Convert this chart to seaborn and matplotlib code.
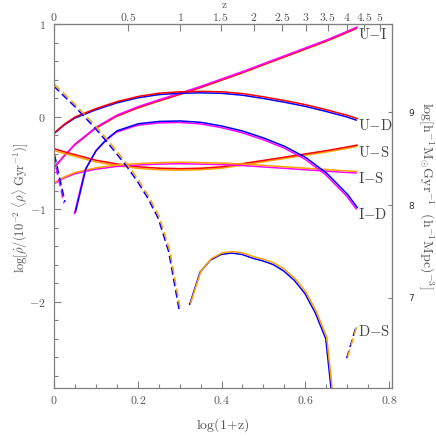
import numpy as np
import matplotlib
matplotlib.use("Agg")
import matplotlib.pyplot as plt
import matplotlib.transforms as mtransforms
import seaborn as sns

# ---------------- data ----------------
grid_x = [0, 0.025, 0.05, 0.1, 0.15, 0.2, 0.25, 0.3, 0.35, 0.4, 0.45,
          0.5, 0.55, 0.6, 0.65, 0.7, 0.723]
ui_y = [-0.55, -0.42, -0.30, -0.12, 0.01, 0.10, 0.175, 0.245, 0.32, 0.40,
        0.48, 0.565, 0.65, 0.735, 0.82, 0.915, 0.96]
ud_y = [-0.18, -0.085, -0.01, 0.08, 0.155, 0.21, 0.245, 0.26, 0.265, 0.26,
        0.24, 0.205, 0.165, 0.12, 0.065, 0.005, -0.03]
us_y = [-0.355, -0.39, -0.42, -0.48, -0.52, -0.55, -0.565, -0.57, -0.565,
        -0.55, -0.515, -0.48, -0.445, -0.41, -0.375, -0.335, -0.315]
is_y = [-0.72, -0.655, -0.61, -0.56, -0.53, -0.515, -0.505, -0.50, -0.505,
        -0.51, -0.52, -0.535, -0.55, -0.565, -0.58, -0.595, -0.60]

id_x = [0.05, 0.075, 0.1, 0.125, 0.15, 0.2, 0.25, 0.3, 0.35, 0.4, 0.45,
        0.5, 0.55, 0.6, 0.65, 0.7, 0.723]
id_y = [-1.04, -0.57, -0.37, -0.25, -0.16, -0.085, -0.06, -0.055, -0.07,
        -0.11, -0.165, -0.24, -0.33, -0.45, -0.62, -0.85, -0.99]
id_neg_x = [0, 0.025]
id_neg_y = [-0.42, -0.93]

ds_neg1_x = [0, 0.025, 0.05, 0.075, 0.1, 0.125, 0.15, 0.175, 0.2, 0.225,
             0.25, 0.275, 0.3]
ds_neg1_y = [0.34, 0.23, 0.12, 0.0, -0.12, -0.25, -0.39, -0.53, -0.69,
             -0.87, -1.09, -1.45, -2.08]
ds_pos_x = [0.325, 0.35, 0.375, 0.4, 0.425, 0.45, 0.475, 0.5, 0.525, 0.55,
            0.575, 0.6, 0.625, 0.65, 0.675]
ds_pos_y = [-2.02, -1.67, -1.54, -1.48, -1.465, -1.48, -1.52, -1.55, -1.59,
            -1.66, -1.76, -1.90, -2.11, -2.39, -3.45]
ds_neg2_x = [0.7, 0.723]
ds_neg2_y = [-2.60, -2.25]

curve_names = ["U{-}I", "U{-}D", "U{-}S", "I{-}S", "I{-}D", "D{-}S"]

x_ticks = [0, 0.2, 0.4, 0.6, 0.8]
x_ticklabels = ["$0$", "$0.2$", "$0.4$", "$0.6$", "$0.8$"]
y_ticks = [-2, -1, 0, 1]
y_ticklabels = ["$-2$", "$-1$", "$0$", "$1$"]
z_ticks = [0, 0.5, 1, 1.5, 2, 2.5, 3, 3.5, 4, 4.5, 5]
z_ticklabels = ["$0$", "$0.5$", "$1$", "$1.5$", "$2$", "$2.5$", "$3$",
                "$3.5$", "$4$", "$4.5$", "$5$"]
right_ticks = [7, 8, 9]
right_ticklabels = ["7", "8", "9"]
RIGHT_OFFSET = 8.955

# ---------------- style ----------------
sns.set_style("ticks")
plt.rcParams["mathtext.fontset"] = "cm"
plt.rcParams["font.family"] = ["DejaVu Sans"]

RED, MAG, BLUE, ORANGE = "#ff0000", "#ff00ff", "#0000ff", "#ffa000"
GRAY = "#808080"
TXT = "#555555"

fig = plt.figure(figsize=(4.36, 4.36), dpi=100)
ax = fig.add_axes([54 / 436, 48 / 436, 338 / 436, 364 / 436])


def draw(x, y, top_color, bottom_color, dashed=False):
    ls = (0, (5, 2.6)) if dashed else "-"
    for c, (dx, dy) in ((bottom_color, (-0.5, -0.75)), (top_color, (0.5, 0.75))):
        tr = mtransforms.offset_copy(ax.transData, fig=fig, x=dx, y=dy, units="dots")
        sns.lineplot(x=x, y=y, ax=ax, color=c, lw=1.1, linestyle=ls,
                     transform=tr, sort=False, estimator=None)


draw(grid_x, ui_y, MAG, RED)
draw(grid_x, ud_y, RED, BLUE)
draw(grid_x, us_y, RED, ORANGE)
draw(grid_x, is_y, ORANGE, MAG)
draw(id_x, id_y, BLUE, MAG)
draw(id_neg_x, id_neg_y, BLUE, MAG, dashed=True)
draw(ds_neg1_x, ds_neg1_y, ORANGE, BLUE, dashed=True)
draw(ds_pos_x, ds_pos_y, ORANGE, BLUE)
draw(ds_neg2_x, ds_neg2_y, ORANGE, BLUE, dashed=True)

ends = [(grid_x[-1], ui_y[-1]), (grid_x[-1], ud_y[-1]), (grid_x[-1], us_y[-1]),
        (grid_x[-1], is_y[-1]), (id_x[-1], id_y[-1]), (ds_neg2_x[-1], ds_neg2_y[-1])]
for name, (ex, ey) in zip(curve_names, ends):
    ax.annotate(r"$\mathrm{%s}$" % name, xy=(ex, ey), xytext=(1.5, -6.5),
                textcoords="offset pixels", ha="left", va="center",
                fontsize=10.5, color="#444444")

ax.set_xlim(0, 0.807)
ax.set_ylim(-2.93, 1.0)
ax.set_xlabel("")
ax.set_ylabel("")

ax.set_xticks(x_ticks)
ax.set_xticklabels(x_ticklabels)
ax.set_xticks(np.arange(0, 0.801, 0.05), minor=True)
ax.set_yticks(y_ticks)
ax.set_yticklabels(y_ticklabels)
ax.set_yticks(np.arange(-2.8, 1.001, 0.2), minor=True)
ax.tick_params(which="both", direction="in", top=False, right=False,
               color=GRAY, width=0.8, labelcolor=TXT, labelsize=8.5)
ax.tick_params(which="major", length=5)
ax.tick_params(which="minor", length=3)
ax.tick_params(axis="x", pad=4)
ax.tick_params(axis="y", pad=6)
for s in ax.spines.values():
    s.set_color(GRAY)
    s.set_linewidth(0.9)

# top z axis
sec = ax.secondary_xaxis("top")
sec.set_xticks([np.log10(1 + z) for z in z_ticks])
sec.set_xticklabels(z_ticklabels)
sec.tick_params(direction="in", length=5, width=0.8, color=GRAY,
                labelcolor=TXT, labelsize=8.5, pad=0)
sec.spines["top"].set_color(GRAY)

# right axis
secy = ax.secondary_yaxis("right", functions=(lambda v: v + RIGHT_OFFSET,
                                              lambda v: v - RIGHT_OFFSET))
secy.set_yticks(right_ticks)
secy.set_yticklabels(right_ticklabels)
secy.tick_params(direction="in", length=3, width=0.8, color=GRAY,
                 labelcolor="#333333", labelsize=6.5, pad=12)
secy.spines["right"].set_color(GRAY)

fig.text(223 / 436, 1 - 425 / 436, r"$\mathrm{log}(1\!+\!\mathrm{z})$",
         ha="center", va="center", fontsize=10, color=TXT)
fig.text(224 / 436, 1 - 0.2 / 436, r"$\mathrm{z}$", ha="center", va="top",
         fontsize=8, color=TXT)
fig.text(21 / 436, 1 - 208 / 436,
         r"$\mathrm{log}[\dot{\rho}/(10^{-2}\ \langle\rho\rangle\ \mathrm{Gyr}^{-1})]$",
         rotation=90, ha="center", va="center", fontsize=9, color=TXT)
fig.text(426 / 436, 1 - 196 / 436,
         r"$\mathrm{log}[\mathrm{h}^{-1}\mathrm{M}_{\odot}\mathrm{Gyr}^{-1}\ \ (\mathrm{h}^{-1}\mathrm{Mpc})^{-3}]$",
         rotation=270, ha="center", va="center", fontsize=10, color=TXT)

fig.savefig("out.png", dpi=100)
